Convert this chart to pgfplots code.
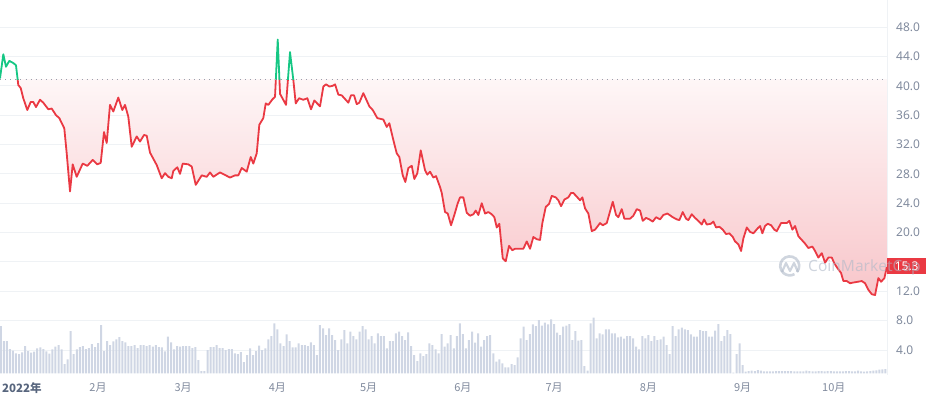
\documentclass[border=0pt]{standalone}
\usepackage{fontspec}
\setmainfont{Noto Sans}
\newfontfamily\cjk{Noto Sans CJK SC}
\usepackage{pgfplots}
\pgfplotsset{compat=1.18}
\usepackage{pgfplotstable}

\definecolor{cmcred}{HTML}{EA3943}
\definecolor{cmcgreen}{HTML}{16C784}
\definecolor{gridc}{HTML}{EFF2F5}
\definecolor{tickc}{HTML}{808A9D}
\definecolor{darkc}{HTML}{58667E}
\definecolor{volc}{HTML}{CFD6E4}
\definecolor{fillc}{HTML}{F8C6CA}
\definecolor{wmc}{HTML}{AFB9C8}
\definecolor{dotc}{HTML}{9AA1AD}

% price, x = day of 2022 (0 = 1 Jan)
\pgfplotstableread[row sep=\\]{
x y\\
-1.25 41.0\\ -0.16 44.3\\ 0.72 42.6\\ 1.81 43.4\\ 3.13 43.1\\ 4.01 42.8\\ 4.77 40.1\\ 5.56 39.7\\
6.41 38.3\\ 7.73 36.7\\ 8.85 37.8\\ 9.70 37.8\\ 10.59 37.1\\ 11.91 38.1\\ 12.99 37.7\\ 14.64 36.8\\
15.76 36.9\\ 17.17 36.0\\ 18.26 35.6\\ 19.90 34.2\\ 20.69 30.8\\ 21.78 25.6\\ 22.66 29.3\\ 23.98 27.6\\
25.95 29.4\\ 27.47 29.1\\ 29.24 29.9\\ 30.76 29.3\\ 31.88 29.5\\ 32.96 33.7\\ 33.85 32.2\\ 34.93 37.4\\
36.02 36.5\\ 37.66 38.4\\ 38.98 36.7\\ 39.87 37.4\\ 40.95 35.8\\ 42.07 31.7\\ 43.72 33.1\\ 44.80 32.4\\
46.12 33.3\\ 47.01 33.2\\ 48.09 30.9\\ 50.30 29.2\\ 51.94 27.4\\ 53.03 28.1\\ 54.11 27.6\\ 55.23 27.4\\
55.76 28.4\\ 57.07 28.9\\ 57.96 28.0\\ 58.85 29.4\\ 60.69 29.3\\ 61.81 29.0\\ 63.13 26.5\\ 65.10 27.8\\
66.74 27.6\\ 67.83 28.2\\ 68.91 27.6\\ 71.12 28.2\\ 74.41 27.5\\ 76.05 27.8\\ 77.14 27.8\\ 78.26 28.8\\
79.90 28.3\\ 81.22 30.3\\ 82.07 29.4\\ 83.19 30.8\\ 84.05 34.7\\ 85.36 35.6\\ 86.15 37.6\\ 87.01 37.4\\
88.45 38.2\\ 89.21 38.5\\ 90.10 46.3\\ 90.86 38.9\\ 92.83 37.4\\ 94.14 44.6\\ 95.23 40.8\\ 96.02 37.6\\
97.11 38.3\\ 98.52 38.1\\ 99.84 38.3\\ 101.05 36.8\\ 102.14 38.0\\ 104.01 37.2\\ 105.10 39.9\\ 105.99 40.2\\
107.07 39.9\\ 108.19 40.0\\ 108.95 40.2\\ 110.03 38.8\\ 111.15 38.7\\ 112.24 38.2\\ 113.32 37.7\\ 114.21 38.7\\
115.20 38.7\\ 116.09 37.5\\ 116.94 37.7\\ 118.26 39.0\\ 120.23 37.2\\ 121.35 36.7\\ 122.86 35.6\\ 124.84 35.4\\
125.95 34.4\\ 126.81 34.9\\ 128.13 32.6\\ 129.24 30.8\\ 130.10 30.3\\ 131.22 27.8\\ 132.07 26.9\\ 133.06 28.8\\
134.18 29.1\\ 135.03 27.3\\ 136.02 28.1\\ 137.14 31.2\\ 138.55 28.5\\ 139.31 27.9\\ 140.20 28.3\\ 141.28 27.5\\
142.17 27.7\\ 143.49 26.2\\ 144.05 25.4\\ 145.13 22.8\\ 146.02 22.6\\ 147.11 21.0\\ 148.19 22.4\\ 149.31 24.0\\
150.07 24.8\\ 151.15 24.8\\ 152.27 22.7\\ 153.36 22.3\\ 154.44 22.5\\ 155.23 23.0\\ 156.09 22.4\\ 157.20 24.0\\
158.29 22.6\\ 159.38 22.8\\ 160.49 22.5\\ 161.35 22.1\\ 162.14 20.7\\ 162.99 21.2\\ 164.11 16.5\\ 165.10 16.1\\
166.18 18.2\\ 167.27 17.6\\ 168.16 17.8\\ 170.89 17.8\\ 172.01 18.8\\ 173.09 17.8\\ 174.18 19.4\\ 175.30 19.1\\
176.38 19.0\\ 177.14 21.3\\ 178.26 23.5\\ 179.34 23.9\\ 180.23 25.0\\ 181.55 24.8\\ 182.40 24.4\\ 183.29 23.6\\
184.38 24.5\\ 185.69 24.8\\ 186.58 25.4\\ 187.34 25.4\\ 188.45 24.9\\ 189.54 24.4\\ 190.30 24.8\\ 191.18 23.3\\
192.27 22.6\\ 193.39 20.2\\ 194.47 20.4\\ 196.12 21.3\\ 197.01 21.0\\ 198.32 21.3\\ 200.30 24.2\\ 201.38 22.4\\
202.14 22.1\\ 203.26 23.2\\ 204.11 21.9\\ 205.99 21.9\\ 207.07 22.3\\ 208.19 23.2\\ 209.28 23.0\\ 210.16 21.6\\
211.25 22.0\\ 212.34 21.8\\ 213.45 21.5\\ 214.54 22.1\\ 215.86 21.8\\ 216.94 22.4\\ 218.26 22.6\\ 220.03 22.1\\
221.35 21.8\\ 222.20 21.7\\ 223.32 22.8\\ 224.41 21.9\\ 225.16 21.7\\ 226.28 22.5\\ 227.37 22.0\\ 228.45 21.6\\
229.57 21.1\\ 230.33 21.8\\ 231.22 21.1\\ 232.53 21.2\\ 233.39 21.5\\ 234.28 20.7\\ 235.36 20.8\\ 236.48 20.4\\
237.57 19.8\\ 238.65 19.9\\ 239.77 19.4\\ 240.53 18.8\\ 241.61 18.4\\ 242.50 17.5\\ 243.26 19.2\\ 244.38 20.7\\
245.46 20.1\\ 246.55 19.9\\ 248.00 20.6\\ 248.75 20.9\\ 249.51 19.9\\ 250.39 20.9\\ 251.28 21.2\\ 252.37 21.0\\
253.45 20.4\\ 254.24 20.2\\ 255.66 21.3\\ 257.53 21.3\\ 258.39 21.6\\ 259.37 20.4\\ 260.26 20.9\\ 261.35 19.5\\
262.47 19.0\\ 263.55 18.5\\ 264.64 17.9\\ 265.95 18.1\\ 266.84 17.5\\ 267.93 16.6\\ 269.05 17.2\\ 270.13 15.9\\
271.22 16.6\\ 272.34 16.6\\ 273.19 15.8\\ 274.31 15.1\\ 275.39 14.5\\ 276.15 13.4\\ 277.27 13.4\\ 278.36 13.1\\
279.44 13.2\\ 280.89 13.3\\ 282.20 13.4\\ 283.29 13.1\\ 284.38 12.2\\ 285.49 11.6\\ 286.58 11.5\\ 287.66 13.8\\
288.55 13.3\\ 289.64 13.8\\ 290.43 15.3\\
}\price

\pgfplotsset{
  chartbox/.style={at={(0pt,0pt)}, anchor=south west, scale only axis,
    width=887pt, height=375pt, xmin=-1.25, xmax=290.5},
}

\begin{document}
\begin{tikzpicture}
\useasboundingbox (0pt,-25pt) rectangle (929pt,375pt);

% grid, tick labels (16.0 sits under the last-price label)
\begin{axis}[chartbox, ymin=0.6, ymax=51.69, clip=false,
  axis line style={draw=none}, tick style={draw=none},
  ytick={4,8,...,48}, yticklabel pos=right,
  yticklabels={4.0,8.0,12.0,,20.0,24.0,28.0,32.0,36.0,40.0,44.0,48.0},
  ymajorgrids, grid style={gridc, line width=1pt},
  yticklabel style={font=\fontsize{12}{14}\selectfont, text=tickc, anchor=west, inner sep=0pt, xshift=9pt},
  xtick={31,59,90,120,151,181,212,243,273},
  xticklabels={2月,3月,4月,5月,6月,7月,8月,9月,10月},
  xticklabel style={font=\cjk\fontsize{11}{13}\selectfont, text=tickc, anchor=center, inner sep=0pt, yshift=-13pt},
]
\draw[gridc, line width=1pt] (rel axis cs:1,0) -- (rel axis cs:1,1);
\node[anchor=west, inner sep=0pt, xshift=2pt, yshift=-13pt, text=darkc,
  font=\cjk\bfseries\fontsize{11.5}{13}\selectfont] at (rel axis cs:0,0) {2022年};
\end{axis}

% volume
\begin{axis}[chartbox, ymin=-1.7, ymax=373.3, hide axis]
\addplot[ybar, bar width=2pt, fill=volc, draw=none] coordinates {
(-1,47.3) (0,32.3) (1,32.3) (2,24.3) (3,22.7) (4,20) (5,19.3) (6,21) (7,27.3) (8,22.3) (9,20.7) (10,21.7)
(11,25) (12,26) (13,24.3) (14,22) (15,19.7) (16,24) (17,26.7) (18,28.3) (19,24) (20,9.3) (21,14) (22,42.3)
(23,19.3) (24,24) (25,26.3) (26,27.3) (27,24.3) (28,25.3) (29,29.3) (30,26.3) (31,30.3) (32,48.3) (33,22.3)
(34,32.3) (35,28.3) (36,32) (37,34) (38,36.3) (39,32.3) (40,31) (41,27.3) (42,27.3) (43,28.3) (44,25.3)
(45,28.3) (46,28.3) (47,27.3) (48,28.3) (49,26.7) (50,28.3) (51,26.3) (52,26) (53,22) (54,36.7) (55,31)
(56,24) (57,27.3) (58,26.7) (59,27.3) (60,27.3) (61,27.3) (62,25.3) (63,26.3) (64,13.3) (65,2.3) (66,2.3)
(67,23.3) (68,26.3) (69,26.3) (70,28.3) (71,25.3) (72,25.3) (73,23.3) (74,24.3) (75,24.3) (76,20) (77,19.3)
(78,21.3) (79,11.3) (80,18.3) (81,25) (82,18.3) (83,22.3) (84,27.7) (85,23.3) (86,25) (87,34) (88,37.3)
(89,50) (90,44) (91,30) (92,27.3) (93,39) (94,32.3) (95,26) (96,26) (97,30) (98,28.3) (99,28.3) (100,27.3)
(101,31) (102,28.3) (103,18.3) (104,48.3)
(105,45) (106,38.3) (107,45) (108,38.3) (109,33.3) (110,23.3) (111,34) (112,43.3) (113,30) (114,41.7)
(115,37.3) (116,34) (117,41.7) (118,47.3) (119,44) (120,34) (121,37.3) (122,30) (123,40) (124,37.3)
(125,37.3) (126,25) (127,32.3) (128,32.3) (129,40) (130,41.7) (131,37.3) (132,33.3) (133,41) (134,27.3)
(135,18.3) (136,12.3) (137,20) (138,17.3) (139,19.3) (140,30) (141,28.3) (142,24) (143,20) (144,39.3)
(145,26.7) (146,30) (147,38.3) (148,25) (149,37.3) (150,50) (151,39.3) (152,25) (153,33.3) (154,41.7)
(155,30.7) (156,40) (157,26.7) (158,33.3) (159,37.3) (160,38.3) (161,20) (162,11.7) (163,14) (164,10)
(165,6) (166,6) (167,9.3) (168,8.3) (169,16) (170,35) (171,46.7) (172,33.3) (173,39.3) (174,49) (175,47.3)
(176,53.3) (177,47.7) (178,50.7) (179,49) (180,54) (181,49.3) (182,40.7) (183,38.3) (184,46.7) (185,47.7)
(186,49.3) (187,33.3) (188,42.3) (189,32.7) (190,33.3) (191,7.3) (192,2.7) (193,50) (194,55.7) (195,35)
(196,40) (197,39) (198,44) (199,44) (200,40) (201,40) (202,36)
(203,36.7) (204,34.7) (205,37.3) (206,37.3) (207,35) (208,26.7) (209,24) (210,37.3) (211,35) (212,38.3)
(213,32.3) (214,37.3) (215,33.3) (216,34) (217,36.7) (218,28.3) (219,19.3) (220,47.3) (221,37.3) (222,44)
(223,45.7) (224,44) (225,43.3) (226,39) (227,36.7) (228,36.7) (229,43.3) (230,42.3) (231,42.3) (232,36.7)
(233,36.7) (234,42.7) (235,49.3) (236,32.3) (237,37.3) (238,43.3) (239,39.3) (240,0.7) (241,19.3) (242,30)
(243,8.3) (244,1.7) (245,2.3) (246,2.7) (247,2.3) (248,3.3) (249,2.7) (250,2) (251,2) (252,2) (253,2)
(254,2.3) (255,2.3) (256,2.3) (257,2.3) (258,2.3) (259,2.3) (260,2) (261,2) (262,2) (263,2) (264,2.7)
(265,2.3) (266,2) (267,2) (268,2.3) (269,2.3) (270,2) (271,2.3) (272,2.3) (273,2) (274,2) (275,2) (276,2)
(277,2.3) (278,2.3) (279,2) (280,2) (281,2.7) (282,2) (283,1.7) (284,2) (285,2.3) (286,2.7) (287,3)
(288,3.7) (289,4) (290,4.3)
};
\end{axis}

% below the opening price: red line and shaded area up to the opening price
\begin{axis}[chartbox, height=295.8pt, ymin=0.6, ymax=40.9, hide axis]
\addplot[top color=white, bottom color=fillc, draw=none] table {\price}
  -- (axis cs:290.43,40.9) -- (axis cs:-1.25,40.9) -- cycle;
\addplot[cmcred, line width=1.8pt, line join=round] table {\price};
\end{axis}

% above the opening price: green line
\begin{axis}[chartbox, at={(0pt,295.8pt)}, height=79.2pt, ymin=40.9, ymax=51.69, hide axis]
\addplot[cmcgreen, line width=1.8pt, line join=round] table {\price};
\end{axis}

% opening price line and last price label
\begin{axis}[chartbox, ymin=0.6, ymax=51.69, hide axis, clip=false]
\addplot[dotc, line width=0.9pt, dash pattern=on 0.9pt off 4.2pt] coordinates {(-1.25,40.9) (290.5,40.9)};
\node[anchor=west, fill=cmcred, text=white, inner sep=0pt, minimum width=39pt, minimum height=16pt,
  font=\fontsize{12}{14}\selectfont] at (axis cs:290.5,15.45) {15.3};
\end{axis}

% watermark
\begin{scope}[opacity=0.6]
\draw[wmc, line width=2.6pt] (797pt,103pt) arc (-40:300:9.5pt);
\draw[wmc, line width=2.2pt, line join=round] (782pt,103pt) -- (786pt,112pt) -- (790pt,104pt) -- (794pt,112pt) -- (798pt,103pt);
\node[anchor=west, inner sep=0pt, text=wmc, font=\fontsize{15.5}{18}\selectfont] at (808pt,108pt) {CoinMarketCap};
\end{scope}
\end{tikzpicture}
\end{document}
